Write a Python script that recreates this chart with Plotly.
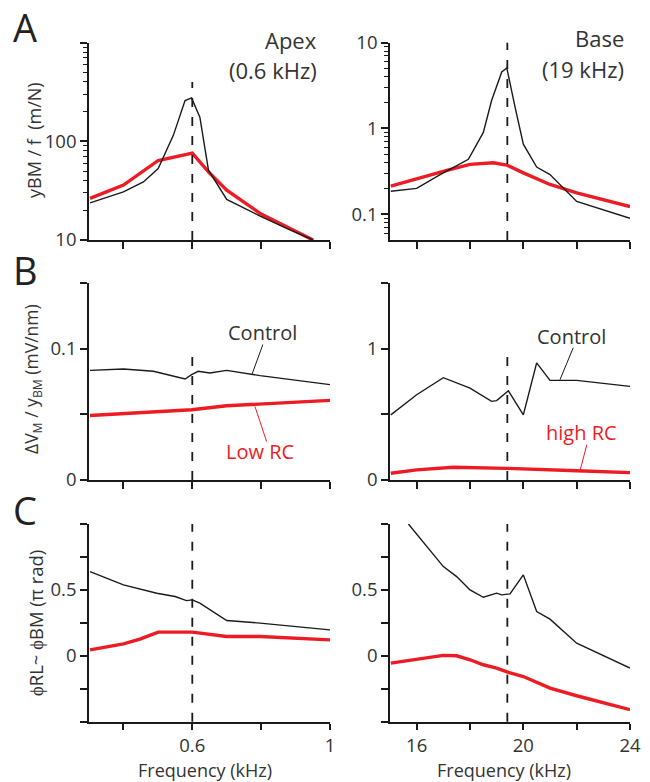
import plotly.graph_objects as go

# ---------------- data ----------------
# Panel A (apex, 0.6 kHz): yBM/f (m/N)
apex_freq_ctrl_A = [0.303, 0.40, 0.458, 0.501, 0.545, 0.579, 0.598, 0.622, 0.647, 0.70, 0.797, 0.874, 0.951]
apex_ctrl_A = [23.8, 30.8, 38.8, 53, 115, 259, 276, 176, 51, 25.8, 17.5, 13.1, 10]
apex_freq_red_A = [0.303, 0.40, 0.501, 0.60, 0.647, 0.70, 0.797, 0.951]
apex_red_A = [26.4, 36, 64, 76, 49, 32, 18.6, 10]

# Panel A (base, 19 kHz)
base_freq_ctrl_A = [15.03, 16.0, 16.88, 17.94, 18.5, 18.81, 19.19, 19.38, 19.69, 20.0, 20.5, 21.0, 22.0, 24.0]
base_ctrl_A = [0.185, 0.20, 0.29, 0.437, 0.90, 2.12, 4.56, 5.08, 1.77, 0.655, 0.355, 0.29, 0.141, 0.0897]
base_freq_red_A = [15.03, 16.0, 17.13, 18.0, 18.87, 19.38, 20.0, 21.0, 22.0, 24.0]
base_red_A = [0.212, 0.26, 0.324, 0.381, 0.398, 0.374, 0.303, 0.222, 0.177, 0.123]

# Panel B (apex): dVM / yBM (mV/nm)
apex_freq_ctrl_B = [0.303, 0.40, 0.487, 0.535, 0.579, 0.598, 0.617, 0.651, 0.70, 0.797, 1.0]
apex_ctrl_B = [0.0836, 0.0847, 0.0829, 0.0796, 0.0770, 0.0803, 0.0829, 0.0816, 0.0836, 0.0796, 0.0727]
apex_freq_red_B = [0.303, 0.598, 0.70, 0.797, 1.0]
apex_red_B = [0.0492, 0.0536, 0.0566, 0.0579, 0.0607]

# Panel B (base)
base_freq_ctrl_B = [15.03, 16.0, 17.0, 18.0, 18.81, 19.0, 19.44, 20.0, 20.5, 21.0, 22.0, 24.0]
base_ctrl_B = [0.497, 0.65, 0.78, 0.70, 0.60, 0.605, 0.68, 0.497, 0.893, 0.76, 0.76, 0.714]
base_freq_red_B = [15.03, 16.0, 17.37, 19.38, 22.0, 24.0]
base_red_B = [0.051, 0.077, 0.097, 0.089, 0.071, 0.056]

# Panel C (apex): phase difference (pi rad)
apex_freq_ctrl_C = [0.303, 0.40, 0.497, 0.55, 0.583, 0.60, 0.622, 0.70, 0.797, 1.0]
apex_ctrl_C = [0.639, 0.538, 0.475, 0.45, 0.419, 0.424, 0.399, 0.268, 0.248, 0.197]
apex_freq_red_C = [0.303, 0.40, 0.448, 0.501, 0.60, 0.70, 0.797, 1.0]
apex_red_C = [0.045, 0.091, 0.126, 0.18, 0.18, 0.146, 0.146, 0.121]

# Panel C (base)
base_freq_ctrl_C = [15.69, 17.0, 17.5, 18.0, 18.5, 19.0, 19.19, 19.5, 20.0, 20.5, 21.0, 22.0, 24.0]
base_ctrl_C = [1.0, 0.677, 0.601, 0.50, 0.444, 0.475, 0.462, 0.47, 0.614, 0.336, 0.278, 0.096, -0.093]
base_freq_red_C = [15.03, 16.0, 17.0, 17.5, 18.0, 18.5, 19.0, 19.44, 20.0, 21.0, 22.0, 24.0]
base_red_C = [-0.056, -0.03, 0.003, 0.0, -0.03, -0.068, -0.093, -0.126, -0.157, -0.245, -0.303, -0.409]

# characteristic frequencies
cf_apex = 0.6
cf_base = 19.4

# tick definitions
apex_xticks = [0.4, 0.6, 0.8, 1.0]
apex_xticktext = ["", "0.6", "", "1"]
base_xticks = [16, 18, 20, 22, 24]
base_xticktext = ["16", "", "20", "", "24"]

# ---------------- styling ----------------
W, H = 650, 782
BLACK = "#1a1a1a"
RED = "#ed1c24"
TXT = "#333333"
FONT = "Open Sans"

def px_x(p):
    return p / W

def px_y(p):
    return (H - p) / H

col_dom = [[px_x(89), px_x(330)], [px_x(390), px_x(630)]]
row_dom = [[px_y(240), px_y(42.7)], [px_y(480), px_y(283.3)], [px_y(721.7), px_y(524)]]

fig = go.Figure()

axis_common = dict(
    showline=True, linecolor=BLACK, linewidth=1.6,
    ticks="outside", ticklen=7, tickwidth=1.5, tickcolor=BLACK,
    showgrid=False, zeroline=False, automargin=False,
    tickfont=dict(family=FONT, size=18.5, color=TXT),
)

panels = [
    (0, 0, apex_freq_ctrl_A, apex_ctrl_A, apex_freq_red_A, apex_red_A),
    (0, 1, base_freq_ctrl_A, base_ctrl_A, base_freq_red_A, base_red_A),
    (1, 0, apex_freq_ctrl_B, apex_ctrl_B, apex_freq_red_B, apex_red_B),
    (1, 1, base_freq_ctrl_B, base_ctrl_B, base_freq_red_B, base_red_B),
    (2, 0, apex_freq_ctrl_C, apex_ctrl_C, apex_freq_red_C, apex_red_C),
    (2, 1, base_freq_ctrl_C, base_ctrl_C, base_freq_red_C, base_red_C),
]

layout = dict()
for i, (r, c, xc, yc, xr, yr) in enumerate(panels):
    n = i + 1
    xa = "x" if n == 1 else f"x{n}"
    ya = "y" if n == 1 else f"y{n}"
    fig.add_trace(go.Scatter(x=xr, y=yr, mode="lines", line=dict(color=RED, width=3.4),
                             xaxis=xa, yaxis=ya, showlegend=False, hoverinfo="skip"))
    fig.add_trace(go.Scatter(x=xc, y=yc, mode="lines", line=dict(color=BLACK, width=1.4),
                             xaxis=xa, yaxis=ya, showlegend=False, hoverinfo="skip"))
    xkey = "xaxis" if n == 1 else f"xaxis{n}"
    ykey = "yaxis" if n == 1 else f"yaxis{n}"
    if c == 0:
        xax = dict(axis_common, domain=col_dom[0], range=[0.3, 1.0], tickvals=apex_xticks,
                   ticktext=apex_xticktext if r == 2 else [" "] * 4, anchor=ya)
    else:
        xax = dict(axis_common, domain=col_dom[1], range=[15, 24], tickvals=base_xticks,
                   ticktext=base_xticktext if r == 2 else [" "] * 5, anchor=ya)
    if r == 2:
        xax["ticklen"] = 6
    layout[xkey] = xax

    if r == 0 and c == 0:
        yax = dict(axis_common, type="log", range=[1, 3], tickvals=[10, 100, 1000], ticktext=["10", "100", " "],
                   minor=dict(ticks="outside", ticklen=4, tickcolor=BLACK, tickwidth=1.2,
                              tickvals=[20, 30, 40, 50, 60, 70, 80, 90, 200, 300, 400, 500, 600, 700, 800, 900]))
    elif r == 0 and c == 1:
        yax = dict(axis_common, type="log", range=[-1.301, 1], tickvals=[0.1, 1, 10], ticktext=["0.1", "1", "10"],
                   minor=dict(ticks="outside", ticklen=4, tickcolor=BLACK, tickwidth=1.2,
                              tickvals=[0.06, 0.07, 0.08, 0.09, 0.2, 0.3, 0.4, 0.5, 0.6, 0.7, 0.8, 0.9,
                                        2, 3, 4, 5, 6, 7, 8, 9]))
    elif r == 1 and c == 0:
        yax = dict(axis_common, range=[0, 0.15], tickvals=[0, 0.05, 0.1, 0.15], ticktext=["0", " ", "0.1", " "])
    elif r == 1 and c == 1:
        yax = dict(axis_common, range=[0, 1.5], tickvals=[0, 0.5, 1, 1.5], ticktext=["0", " ", "1", " "])
    else:
        yax = dict(axis_common, range=[-0.5, 1.0], tickvals=[-0.5, -0.25, 0, 0.25, 0.5, 0.75, 1.0],
                   ticktext=[" ", " ", "0", " ", "0.5", " ", " "])
    yax.update(domain=row_dom[r], anchor=xa)
    layout[ykey] = yax

# dashed characteristic-frequency lines
dash = dict(color=BLACK, width=1.8, dash="9px,10px")
shapes = [
    dict(type="line", xref="x", yref="y", x0=cf_apex, x1=cf_apex, y0=10, y1=400, line=dash),
    dict(type="line", xref="x2", yref="y2 domain", x0=cf_base, x1=cf_base, y0=0, y1=1, line=dash),
    dict(type="line", xref="x3", yref="y3", x0=cf_apex, x1=cf_apex, y0=0, y1=0.1, line=dash),
    dict(type="line", xref="x4", yref="y4", x0=cf_base, x1=cf_base, y0=0, y1=1.0, line=dash),
    dict(type="line", xref="x5", yref="y5 domain", x0=cf_apex, x1=cf_apex, y0=0, y1=1, line=dash),
    dict(type="line", xref="x6", yref="y6 domain", x0=cf_base, x1=cf_base, y0=0, y1=1, line=dash),
    # label pointers
    dict(type="line", xref="x3", yref="y3", x0=0.805, x1=0.773, y0=0.1033, y1=0.0803, line=dict(color=BLACK, width=1)),
    dict(type="line", xref="x3", yref="y3", x0=0.782, x1=0.816, y0=0.0561, y1=0.0293, line=dict(color=RED, width=1)),
    dict(type="line", xref="x4", yref="y4", x0=21.87, x1=21.375, y0=1.008, y1=0.765, line=dict(color=BLACK, width=1)),
    dict(type="line", xref="x4", yref="y4", x0=22.38, x1=22.125, y0=0.268, y1=0.071, line=dict(color=RED, width=1)),
]

ann = []
def add_text(text, x, y, size, color=TXT, xref="paper", yref="paper", xanchor="center", yanchor="middle", angle=0):
    ann.append(dict(text=text, x=x, y=y, xref=xref, yref=yref, xanchor=xanchor, yanchor=yanchor,
                    showarrow=False, textangle=angle, font=dict(family=FONT, size=size, color=color)))

# panel letters
add_text("A", px_x(25), px_y(27), 38, color="#222222")
add_text("B", px_x(25), px_y(270), 38, color="#222222")
add_text("C", px_x(25), px_y(510), 38, color="#222222")

# region titles
add_text("Apex", px_x(319), px_y(40), 22, xanchor="right")
add_text("(0.6 kHz)", px_x(319), px_y(70), 22, xanchor="right")
add_text("Base", px_x(626), px_y(38), 22, xanchor="right")
add_text("(19 kHz)", px_x(626), px_y(69), 22, xanchor="right")

# axis titles
add_text("yBM / f  (m/N)", px_x(34), px_y(140), 18, angle=-90)
add_text("ΔV<sub>M</sub> / y<sub>BM</sub> (mV/nm)", px_x(33), px_y(379), 17.5, angle=-90)
add_text("ϕRL~ ϕBM (π rad)", px_x(35), px_y(623), 18.5, angle=-90)
add_text("Frequency (kHz)", px_x(205), px_y(770), 18)
add_text("Frequency (kHz)", px_x(504), px_y(770), 18)

# series labels
add_text("Control", 0.805, 0.1125, 20, xref="x3", yref="y3")
add_text("Low RC", 0.797, 0.0214, 20, color=RED, xref="x3", yref="y3")
add_text("Control", 21.81, 1.092, 20, xref="x4", yref="y4")
add_text("high RC", 22.19, 0.362, 20, color=RED, xref="x4", yref="y4")

fig.update_layout(
    width=W, height=H,
    margin=dict(l=0, r=0, t=0, b=0),
    paper_bgcolor="white", plot_bgcolor="white",
    shapes=shapes, annotations=ann,
    **layout,
)

fig.write_html("out.html", config={"displayModeBar": False},
               post_script="document.body.style.margin='0';document.body.style.overflow='hidden';")
